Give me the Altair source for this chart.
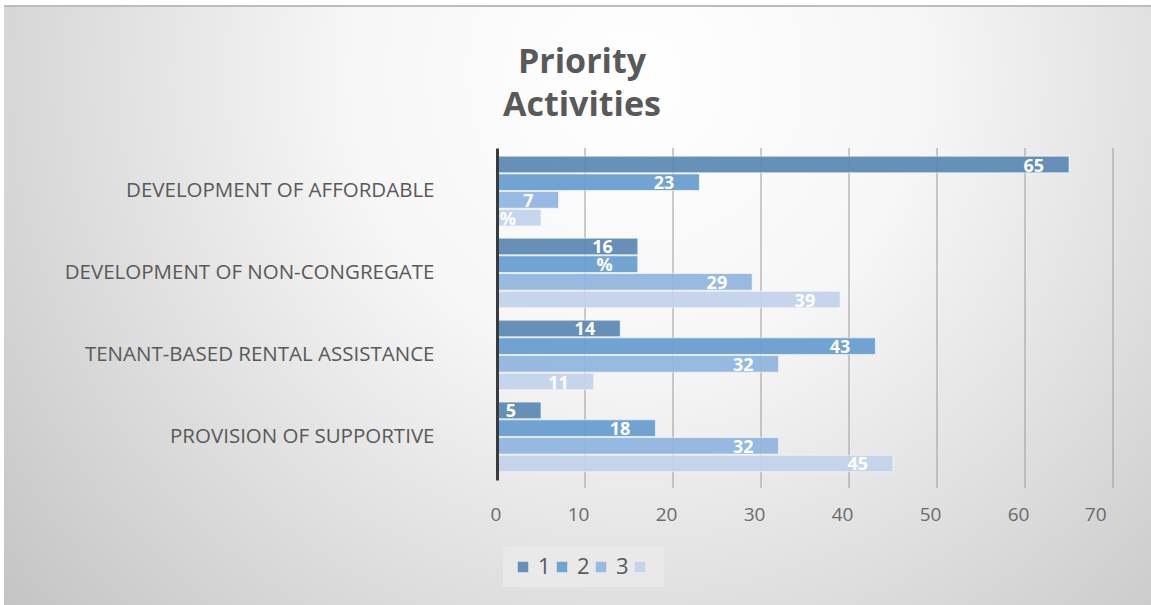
import altair as alt
import pandas as pd

categories = [
    "DEVELOPMENT OF AFFORDABLE",
    "DEVELOPMENT OF NON-CONGREGATE",
    "TENANT-BASED RENTAL ASSISTANCE",
    "PROVISION OF SUPPORTIVE",
]
series_names = ["1", "2", "3", "4"]
values = {
    "1": [65, 16, 14, 5],
    "2": [23, 16, 43, 18],
    "3": [7, 29, 32, 32],
    "4": [5, 39, 11, 45],
}
labels = {
    "1": ["65", "16", "14", "5"],
    "2": ["23", "%", "43", "18"],
    "3": ["7", "29", "32", "32"],
    "4": ["%", "39", "11", "45"],
}
colors = ["#5a88b3", "#669dd0", "#90b5e0", "#c2d3eb"]
x_ticks = [0, 10, 20, 30, 40, 50, 60, 70]

rows = []
for s in series_names:
    for i, c in enumerate(categories):
        rows.append({"category": c, "series": s, "value": values[s][i], "label": labels[s][i]})
df = pd.DataFrame(rows)
grid_df = pd.DataFrame({"value": x_ticks[1:]})

W, H = 616, 332
PL, PT, PR, PB = 497, 148, 38, 125

bg = alt.Chart(pd.DataFrame({"a": [0]})).mark_rect(
    fill=alt.RadialGradient(
        gradient="radial",
        x1=0.55, y1=0.3, x2=0.55, y2=0.3, r1=0, r2=0.72,
        stops=[
            alt.GradientStop(color="#ffffff", offset=0),
            alt.GradientStop(color="#f6f6f6", offset=0.35),
            alt.GradientStop(color="#c4c4c4", offset=1),
        ],
    )
).encode(
    x=alt.value(-PL + 4), x2=alt.value(W + PR),
    y=alt.value(-PT + 5), y2=alt.value(H + PB),
)

top_line = alt.Chart(pd.DataFrame({"a": [0]})).mark_rule(
    color="#bdbdbd", strokeWidth=2
).encode(
    x=alt.value(-PL + 4), x2=alt.value(W + PR), y=alt.value(-PT + 6),
)

x_scale = alt.Scale(domain=[0, 70], nice=False)
x_axis = alt.Axis(
    values=x_ticks, labelFontSize=19, labelColor="#6b6b6b", labelFont="Open Sans",
    labelPadding=25, labelOffset=-7, domain=False, ticks=False, grid=False, zindex=1,
)

grid = alt.Chart(grid_df).mark_rule(color="#9a9a9a", strokeWidth=1).encode(
    x=alt.X("value:Q", scale=x_scale, title=None, axis=x_axis),
    y=alt.value(0), y2=alt.value(H + 8),
)

y_enc = alt.Y(
    "category:N", sort=categories, title=None,
    scale=alt.Scale(paddingInner=0.15, paddingOuter=0.1),
    axis=alt.Axis(
        labelFontSize=20.5, labelColor="#595959", labelFont="Open Sans",
        labelPadding=63, labelLimit=0, ticks=False, zindex=1,
        domainColor="#3a3a3a", domainWidth=3,
    ),
)
yoff = alt.YOffset("series:N", sort=series_names, scale=alt.Scale(paddingInner=0.06))
x_enc = alt.X("value:Q", title=None, scale=x_scale, axis=x_axis)

bars = alt.Chart(df).mark_bar(
    stroke="#ffffff", strokeOpacity=0.6, strokeWidth=1, opacity=0.92
).encode(
    y=y_enc, yOffset=yoff, x=x_enc,
    color=alt.Color(
        "series:N", sort=series_names,
        scale=alt.Scale(domain=series_names, range=colors),
        legend=alt.Legend(
            title=None, orient="none", direction="horizontal",
            legendX=6, legendY=399,
            symbolType="square", symbolSize=110, symbolStrokeWidth=0,
            labelFontSize=22, labelColor="#595959", labelFont="Open Sans",
            labelExpr="datum.label == '4' ? '' : datum.label",
            columnPadding=0, labelOffset=4,
            fillColor="#e9e9e9", padding=9,
        ),
    ),
)

text = alt.Chart(df).mark_text(
    align="right", baseline="middle", dx=-25, dy=2,
    fontSize=18, fontWeight="bold", font="Open Sans", color="white",
).encode(y=alt.Y("category:N", sort=categories), yOffset=yoff, x="value:Q", text="label:N")

chart = alt.layer(bg, top_line, grid, bars, text).properties(
    width=W, height=H,
    autosize=alt.AutoSizeParams(type="none"),
    padding={"left": PL, "top": PT, "right": PR, "bottom": PB},
    background="white",
    title=alt.TitleParams(
        ["Priority", "Activities"], anchor="middle", frame="group", dx=-223, dy=118, offset=0,
        fontSize=34, fontWeight="bold", font="Open Sans", color="#595959", lineHeight=43,
        zindex=1,
    ),
).configure_view(stroke=None)

chart.save("out.html", embed_options={"renderer": "svg", "actions": False})
